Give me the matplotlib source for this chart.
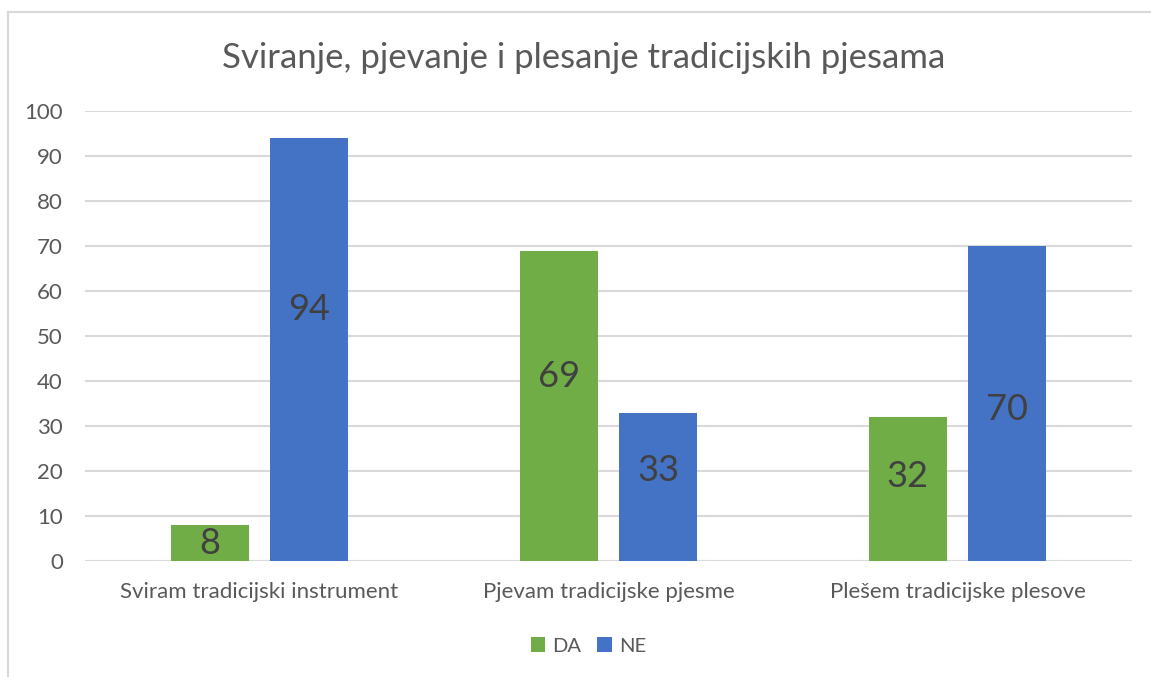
import matplotlib
matplotlib.use("Agg")
import matplotlib.pyplot as plt
from matplotlib.lines import Line2D
from matplotlib.patches import Patch
import numpy as np

categories = ["Sviram tradicijski instrument", "Pjevam tradicijske pjesme", "Plešem tradicijske plesove"]
series_names = ["DA", "NE"]
da_values = [8, 69, 32]
ne_values = [94, 33, 70]
yticks = [0, 10, 20, 30, 40, 50, 60, 70, 80, 90, 100]
title = "Sviranje, pjevanje i plesanje tradicijskih pjesama"

# label vertical placement (as in the reference, in data units)
da_label_y = [3.8, 40.9, 18.7]
ne_label_y = [55.8, 20.2, 33.6]

GREEN = "#70AD47"
BLUE = "#4472C4"
TXT = "#595959"
LBL = "#404040"
GRID = "#D9D9D9"
FONT = "Lato"

W, H = 1151, 677
fig = plt.figure(figsize=(W / 100, H / 100), dpi=100)
fig.patch.set_facecolor("white")

left, right, top, bottom = 85, 1132, 111, 561
ax = fig.add_axes([left / W, 1 - bottom / H, (right - left) / W, (bottom - top) / H])

x = np.arange(len(categories))
bw = 0.224
off = 0.143
ax.bar(x - off, da_values, bw, color=GREEN, zorder=3)
ax.bar(x + off, ne_values, bw, color=BLUE, zorder=3)

for xi, ly, v in zip(x - off, da_label_y, da_values):
    ax.text(xi, ly, str(v), ha="center", va="center", fontsize=26, color=LBL,
            family=FONT, zorder=4)
for xi, ly, v in zip(x + off, ne_label_y, ne_values):
    ax.text(xi, ly, str(v), ha="center", va="center", fontsize=26, color=LBL,
            family=FONT, zorder=4)

ax.set_xlim(-0.5, len(categories) - 0.5)
ax.set_ylim(0, 100)
ax.set_yticks(yticks)
ax.set_yticklabels([str(t) for t in yticks])
ax.set_xticks(x)
ax.set_xticklabels(categories)
for s in ax.spines.values():
    s.set_visible(False)
ax.grid(axis="y", color=GRID, linewidth=1.5, zorder=0)
ax.set_axisbelow(True)
ax.tick_params(axis="both", length=0, labelcolor=TXT, labelsize=16)
ax.tick_params(axis="y", pad=16)
ax.tick_params(axis="x", pad=15)
for lab in ax.get_xticklabels() + ax.get_yticklabels():
    lab.set_family(FONT)
ax.axhline(0, color=GRID, linewidth=1.5, zorder=2)

fig.text(583.5 / W, 1 - 68 / H, title, ha="center", va="baseline",
         fontsize=25, color=TXT, family=FONT)

handles = [Patch(facecolor=GREEN), Patch(facecolor=BLUE)]
leg = fig.legend(handles, series_names, loc="center", bbox_to_anchor=(588.5 / W, 1 - 646 / H),
                 ncol=2, frameon=False, prop={"family": FONT, "size": 14.5},
                 handlelength=0.7, handleheight=0.7, handletextpad=0.35, columnspacing=0.8)
for t in leg.get_texts():
    t.set_color(TXT)

# chart area border (top and left visible)
fig.add_artist(Line2D([8 / W, 1.0], [1 - 12 / H, 1 - 12 / H], transform=fig.transFigure,
                      color=GRID, linewidth=1.5))
fig.add_artist(Line2D([8 / W, 8 / W], [0, 1 - 12 / H], transform=fig.transFigure,
                      color=GRID, linewidth=1.5))

fig.savefig("out.png", dpi=100, facecolor="white")
